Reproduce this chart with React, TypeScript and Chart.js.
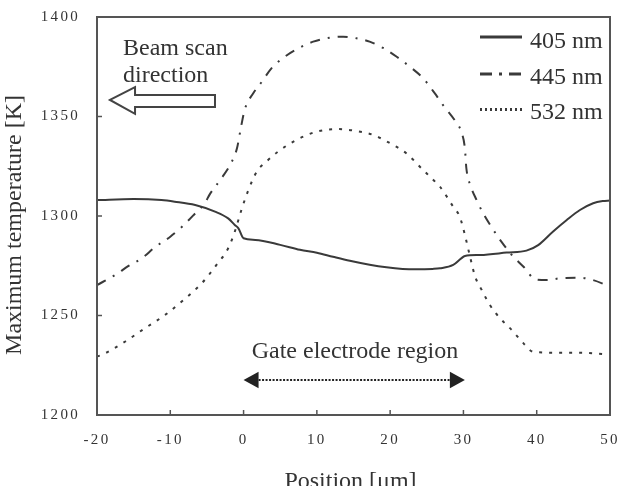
import React, { useEffect, useRef } from 'react';
import { Chart, LinearScale, registerables } from 'chart.js';

Chart.register(...registerables);

class SpacedLinearScale extends LinearScale {
  static id = 'spacedLinear';
  static defaults = LinearScale.defaults;
  drawLabels(chartArea: any) {
    const ctx: any = this.ctx;
    ctx.save();
    ctx.letterSpacing = '2.3px';
    super.drawLabels(chartArea);
    ctx.restore();
  }
  drawTitle() {
    const ctx: any = this.ctx;
    const shift = (this.options as any).titleShift || 0;
    ctx.save();
    if (this.isHorizontal()) ctx.translate(shift, 0);
    else ctx.translate(0, shift);
    super.drawTitle();
    ctx.restore();
  }
}
Chart.register(SpacedLinearScale as any);

// ---- Data ----
const seriesLabels = ['405 nm', '445 nm', '532 nm'];

const pos405 = [-20, -15, -11.2, -9.4, -6.6, -3.9, -2.1, -1.2, -0.7, 0, 1.6, 5, 7.7, 10, 12.2, 14.5, 17.2, 19.5, 21.7, 23.5, 25.8, 26.8, 28.6, 29.7, 30.2, 32.3, 35.9, 38.6, 40.2, 42.2, 44.1, 45.9, 47.7, 49, 50];
const temp405 = [1308, 1308.5, 1308, 1307.2, 1305.5, 1302.2, 1298.8, 1295.5, 1293.8, 1288.8, 1288, 1285.5, 1283, 1281.5, 1279.5, 1277.5, 1275.5, 1274.2, 1273.4, 1273.2, 1273.4, 1273.7, 1275.4, 1278.7, 1279.9, 1280.4, 1281.6, 1282.6, 1285.4, 1292.1, 1298, 1303, 1306.4, 1307.5, 1307.8];

const pos445 = [-20, -17.5, -15.7, -13.9, -12.1, -10, -8.4, -6.6, -5.3, -4.6, -3, -1.6, -0.9, -0.3, 0.2, 1.3, 2.5, 3.8, 5.6, 7.5, 9.5, 11.8, 13.6, 15.4, 17.2, 19.1, 20.9, 22.7, 24.5, 26.1, 27.2, 28.8, 29.7, 30.2, 30.4, 31.0, 31.8, 32.7, 33.8, 35.2, 36.6, 38.2, 39.8, 41.4, 43.2, 45.9, 47.7, 50];
const temp445 = [1265.3, 1270.4, 1274.9, 1278.7, 1284.3, 1289.6, 1294.6, 1301.3, 1306.4, 1311, 1319, 1327.3, 1334, 1345.7, 1354, 1361.6, 1367.5, 1374.2, 1380, 1384.3, 1387.6, 1389.6, 1390.1, 1389.3, 1387.6, 1384.3, 1380, 1375, 1369.2, 1361.6, 1355.8, 1348.2, 1342.4, 1334, 1324, 1315, 1308, 1301.3, 1294.6, 1287, 1280.4, 1274.5, 1268.2, 1267.8, 1268.7, 1269, 1267.8, 1264.5];

const pos532 = [-20, -18.9, -16.2, -13.5, -10.7, -8.2, -5.7, -3.7, -2.1, -1.2, -0.3, 0.6, 1.8, 3.1, 4.7, 7.2, 10, 12.7, 15.4, 17.7, 20.4, 22.2, 24.5, 25.9, 26.8, 28.6, 29.5, 30.2, 30.9, 31.6, 32.5, 33.6, 35, 36.6, 38.2, 39.5, 42.7, 45.9, 49, 50];
const temp532 = [1229.3, 1231, 1236.8, 1243.5, 1250.3, 1257.8, 1266.2, 1275.4, 1283.8, 1292.1, 1303, 1312.5, 1322.3, 1327.3, 1332.3, 1338.2, 1342.4, 1343.7, 1342.7, 1340.7, 1335.7, 1331.5, 1323.1, 1318.1, 1314.7, 1304.7, 1299.6, 1290.5, 1279.6, 1269.5, 1262.8, 1255.3, 1248.6, 1242.7, 1236, 1231.8, 1231.3, 1231.3, 1230.6, 1230.4];

const xTitle = 'Position [μm]';
const yTitle = 'Maximum temperature [K]';
const beamText = ['Beam scan', 'direction'];
const gateText = 'Gate electrode region';

// ---- Styles ----
const FONT = 'Liberation Serif';
const TEXT = '#333';
const LINE = '#3a3a3a';
const FRAME = '#555';
const dashes: number[][] = [[], [10, 8, 2, 8], [3, 7]];
const legendDashes: number[][] = [[], [12, 7, 3, 7], [2, 3]];

const toPts = (xs: number[], ys: number[]) => xs.map((v, i) => ({ x: v, y: ys[i] }));

const decor = {
  id: 'decor',
  afterDatasetsDraw(chart: any) {
    const { ctx, chartArea: a, scales } = chart;
    const xs = scales.x;
    const ys = scales.y;
    const px = (v: number) => xs.getPixelForValue(v);
    const py = (v: number) => ys.getPixelForValue(v);
    ctx.save();

    // frame
    ctx.strokeStyle = FRAME;
    ctx.lineWidth = 2;
    ctx.setLineDash([]);
    ctx.strokeRect(a.left, a.top, a.right - a.left, a.bottom - a.top);

    // inside ticks
    ctx.lineWidth = 1.5;
    xs.ticks.forEach((t: any) => {
      const p = px(t.value);
      if (p <= a.left + 1 || p >= a.right - 1) return;
      ctx.beginPath();
      ctx.moveTo(p, a.bottom);
      ctx.lineTo(p, a.bottom - 5);
      ctx.stroke();
    });
    ys.ticks.forEach((t: any) => {
      const p = py(t.value);
      if (p <= a.top + 1 || p >= a.bottom - 1) return;
      ctx.beginPath();
      ctx.moveTo(a.left, p);
      ctx.lineTo(a.left + 5, p);
      ctx.stroke();
    });

    // legend
    const lx0 = a.right - 130;
    const lx1 = a.right - 88;
    const rowsLine = [a.top + 20, a.top + 57, a.top + 92.5];
    const rowsText = [a.top + 31, a.top + 66.5, a.top + 102];
    ctx.font = `24px "${FONT}"`;
    ctx.textAlign = 'left';
    ctx.textBaseline = 'alphabetic';
    seriesLabels.forEach((lab, i) => {
      ctx.strokeStyle = LINE;
      ctx.lineWidth = 3;
      ctx.setLineDash(legendDashes[i]);
      ctx.beginPath();
      ctx.moveTo(lx0, rowsLine[i]);
      ctx.lineTo(lx1, rowsLine[i]);
      ctx.stroke();
      ctx.setLineDash([]);
      ctx.fillStyle = TEXT;
      ctx.fillText(lab, lx1 + 8, rowsText[i]);
    });

    // Beam scan direction text
    ctx.fillStyle = TEXT;
    ctx.fillText(beamText[0], px(-16.45), py(1380.9));
    ctx.fillText(beamText[1], px(-16.45), py(1367.3));

    // hollow arrow
    ctx.setLineDash([]);
    ctx.strokeStyle = '#444';
    ctx.lineWidth = 2;
    ctx.fillStyle = '#fff';
    ctx.beginPath();
    ctx.moveTo(px(-18.23), py(1358.3));
    ctx.lineTo(px(-14.81), py(1364.8));
    ctx.lineTo(px(-14.81), py(1360.8));
    ctx.lineTo(px(-3.9), py(1360.8));
    ctx.lineTo(px(-3.9), py(1354.8));
    ctx.lineTo(px(-14.81), py(1354.8));
    ctx.lineTo(px(-14.81), py(1351.3));
    ctx.closePath();
    ctx.fill();
    ctx.stroke();

    // gate electrode region
    ctx.fillStyle = TEXT;
    ctx.textAlign = 'center';
    ctx.fillText(gateText, px(15.2), py(1228.6));

    const gy = py(1217.6);
    const gx0 = px(0);
    const gx1 = px(30.2);
    const head = 15;
    const hh = 8.3;
    ctx.strokeStyle = '#222';
    ctx.lineWidth = 2;
    ctx.setLineDash([2, 1.5]);
    ctx.beginPath();
    ctx.moveTo(gx0 + head, gy);
    ctx.lineTo(gx1 - head, gy);
    ctx.stroke();
    ctx.setLineDash([]);
    ctx.fillStyle = '#222';
    ctx.beginPath();
    ctx.moveTo(gx0, gy);
    ctx.lineTo(gx0 + head, gy - hh);
    ctx.lineTo(gx0 + head, gy + hh);
    ctx.closePath();
    ctx.fill();
    ctx.beginPath();
    ctx.moveTo(gx1, gy);
    ctx.lineTo(gx1 - head, gy - hh);
    ctx.lineTo(gx1 - head, gy + hh);
    ctx.closePath();
    ctx.fill();

    ctx.restore();
  },
};

const zeroPad = (s: any) => {
  s.paddingLeft = 0;
  s.paddingRight = 0;
  s.paddingTop = 0;
  s.paddingBottom = 0;
};

export default function App() {
  const ref = useRef<HTMLCanvasElement>(null);
  useEffect(() => {
    document.body.style.margin = '0';
    const canvas = ref.current;
    if (!canvas) return;
    const mk = (i: number, xs: number[], ys: number[]) => ({
      label: seriesLabels[i],
      data: toPts(xs, ys),
      borderColor: LINE,
      borderWidth: 2,
      borderDash: dashes[i],
      pointRadius: 0,
      fill: false,
      cubicInterpolationMode: 'monotone' as const,
    });
    const chart = new Chart(canvas, {
      type: 'line',
      data: {
        datasets: [mk(0, pos405, temp405), mk(1, pos445, temp445), mk(2, pos532, temp532)],
      },
      options: {
        animation: false,
        responsive: false,
        devicePixelRatio: 1,
        layout: { padding: { top: 17, right: 7, left: 0, bottom: 0 } },
        plugins: { legend: { display: false }, tooltip: { enabled: false } },
        scales: {
          x: {
            type: 'spacedLinear' as any,
            min: -20,
            max: 50,
            border: { display: false },
            grid: { display: false, drawTicks: false },
            ticks: {
              stepSize: 10, padding: 16, color: TEXT, font: { family: FONT, size: 15 }, maxRotation: 0,
              callback: (v: any) => String(v),
            },
            title: { display: true, text: xTitle, color: TEXT, font: { family: FONT, size: 24 }, padding: { top: 0, bottom: -10 } },
            titleShift: -3,
            afterFit: (s: any) => { s.height = 71; zeroPad(s); },
          },
          y: {
            type: 'spacedLinear' as any,
            min: 1200,
            max: 1400,
            border: { display: false },
            grid: { display: false, drawTicks: false },
            ticks: {
              stepSize: 50, padding: 17, color: TEXT, font: { family: FONT, size: 15 },
              callback: (v: any) => String(v),
            },
            title: { display: true, text: yTitle, color: TEXT, font: { family: FONT, size: 24 }, padding: { top: 0, bottom: 0 } },
            titleShift: 9,
            afterFit: (s: any) => { s.width = 97; zeroPad(s); },
          },
        },
      },
      plugins: [decor],
    } as any);
    return () => chart.destroy();
  }, []);
  return (
    <div style={{ position: 'relative', width: 617, height: 486 }}>
      <canvas ref={ref} width={617} height={486} />
    </div>
  );
}
